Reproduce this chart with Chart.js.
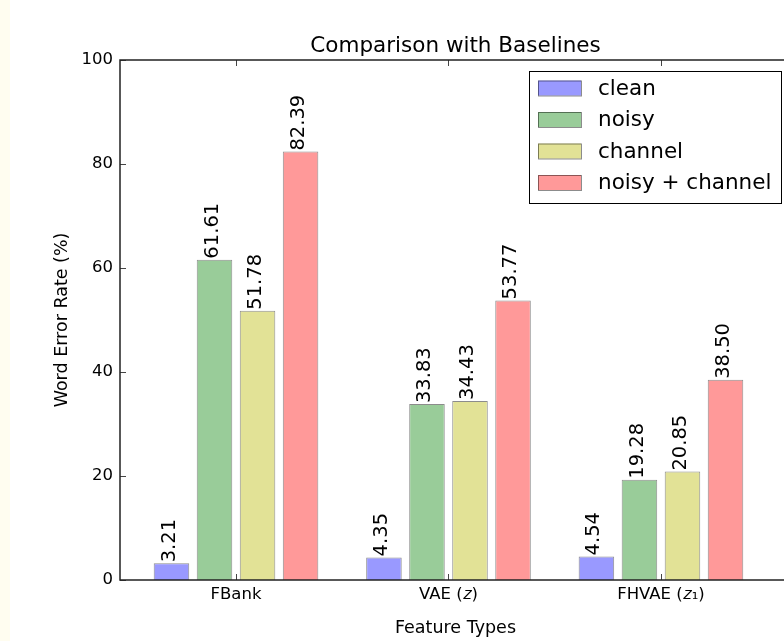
<!DOCTYPE html>
<html>
<head>
<meta charset="utf-8">
<script src="https://cdn.jsdelivr.net/npm/chart.js@4.4.1/dist/chart.umd.min.js"></script>
<style>
  html, body { margin: 0; padding: 0; overflow: hidden; background: #fffdf0; width: 784px; height: 641px; }
  #grafico { position: absolute; left: 10px; top: 0; background: #fff; }
</style>
</head>
<body>
<canvas id="grafico" width="790" height="641"></canvas>
<script>
const categorias = ['FBank', 'VAE (𝑧)', 'FHVAE (𝑧₁)'];
const clean = [3.21, 4.35, 4.54];
const noisy = [61.61, 33.83, 19.28];
const channel = [51.78, 34.43, 20.85];
const noisyChannel = [82.39, 53.77, 38.50];
const yTicks = [0, 20, 40, 60, 80, 100];

const FONTE = "'DejaVu Sans', 'Liberation Sans', sans-serif";

function pontos(valores) {
  return valores.map((v, i) => ({ x: i, y: v }));
}

// ------------ Rótulos de valor em cima das barras ------------
const rotulosBarras = {
  id: 'rotulosBarras',
  afterDatasetsDraw(chart) {
    const ctx = chart.ctx;
    ctx.save();
    ctx.fillStyle = '#000';
    ctx.font = '19.5px ' + FONTE;
    ctx.textAlign = 'left';
    ctx.textBaseline = 'middle';
    chart.data.datasets.forEach((ds, i) => {
      chart.getDatasetMeta(i).data.forEach((bar, j) => {
        ctx.save();
        ctx.translate(bar.x - 2, bar.y - 1);
        ctx.rotate(-Math.PI / 2);
        ctx.fillText(ds.data[j].y.toFixed(2), 0, 0);
        ctx.restore();
      });
    });
    ctx.restore();
  }
};

// ------------ Moldura, ticks internos e legenda ------------
const moldura = {
  id: 'moldura',
  afterDraw(chart) {
    const ctx = chart.ctx;
    const a = chart.chartArea;
    const sx = chart.scales.x, sy = chart.scales.y;
    ctx.save();

    // ticks para dentro
    ctx.strokeStyle = '#444';
    ctx.lineWidth = 1;
    ctx.beginPath();
    categorias.forEach((c, i) => {
      const px = Math.round(sx.getPixelForValue(i)) + 0.5;
      ctx.moveTo(px, a.top); ctx.lineTo(px, a.top + 6);
      ctx.moveTo(px, a.bottom); ctx.lineTo(px, a.bottom - 6);
    });
    yTicks.forEach(v => {
      const py = Math.round(sy.getPixelForValue(v)) + 0.5;
      ctx.moveTo(a.left, py); ctx.lineTo(a.left + 6, py);
      ctx.moveTo(a.right, py); ctx.lineTo(a.right - 6, py);
    });
    ctx.stroke();

    // eixos
    ctx.strokeStyle = '#222';
    ctx.lineWidth = 1.5;
    ctx.strokeRect(a.left, a.top, a.right - a.left, a.bottom - a.top);

    // legenda
    const lx = 519, ly = 71, lw = 252, lh = 132;
    ctx.fillStyle = '#fff';
    ctx.fillRect(lx, ly, lw, lh);
    ctx.strokeStyle = '#000';
    ctx.lineWidth = 1;
    ctx.strokeRect(lx + 0.5, ly + 0.5, lw, lh);
    ctx.font = '21.5px ' + FONTE;
    ctx.textAlign = 'left';
    ctx.textBaseline = 'middle';
    chart.data.datasets.forEach((ds, i) => {
      const cy = 88 + i * 31.5;
      ctx.fillStyle = ds.backgroundColor;
      ctx.fillRect(528, cy - 7.5, 43, 15);
      ctx.strokeStyle = ds.borderColor;
      ctx.strokeRect(528.5, cy - 7, 43, 15);
      ctx.fillStyle = '#000';
      ctx.fillText(ds.label, 588, cy + 1);
    });
    ctx.restore();
  }
};

const grafico = document.getElementById('grafico');

new Chart(grafico, {
  type: 'bar',
  data: {
    datasets: [
      { label: 'clean', data: pontos(clean), backgroundColor: '#9999ff' },
      { label: 'noisy', data: pontos(noisy), backgroundColor: '#99cc99' },
      { label: 'channel', data: pontos(channel), backgroundColor: '#e2e296' },
      { label: 'noisy + channel', data: pontos(noisyChannel), backgroundColor: '#ff9999' }
    ].map(ds => Object.assign(ds, {
      borderColor: 'rgba(0,0,0,0.45)',
      borderWidth: 1,
      categoryPercentage: 0.81,
      barPercentage: 0.826
    }))
  },
  options: {
    responsive: false,
    animation: false,
    devicePixelRatio: 1,
    layout: { padding: { left: 0, right: 9, top: 0, bottom: 0 } },
    plugins: {
      legend: { display: false },
      tooltip: { enabled: false },
      title: {
        display: true,
        text: 'Comparison with Baselines',
        fullSize: false,
        color: '#000',
        font: { family: FONTE, size: 21.5, weight: 'normal', lineHeight: 1.2 },
        padding: { top: 34, bottom: 0.2 }
      }
    },
    scales: {
      x: {
        type: 'linear',
        min: -0.546,
        max: 2.612,
        offset: false,
        grid: { display: false, drawTicks: false, offset: false },
        border: { display: false },
        afterBuildTicks: s => { s.ticks = categorias.map((c, i) => ({ value: i })); },
        afterFit: s => { s.height = 61; },
        ticks: {
          padding: 5,
          autoSkip: false,
          maxRotation: 0,
          color: '#000',
          font: { family: FONTE, size: 16.5 },
          callback: v => categorias[v]
        },
        title: {
          display: true,
          text: 'Feature Types',
          color: '#000',
          font: { family: FONTE, size: 17.5, lineHeight: 1.2 },
          padding: { top: 0, bottom: 2.5 }
        }
      },
      y: {
        min: 0,
        max: 100,
        grid: { display: false, drawTicks: false },
        border: { display: false },
        afterBuildTicks: s => { s.ticks = yTicks.map(v => ({ value: v })); },
        afterFit: s => { s.width = 110; },
        ticks: {
          padding: 7,
          color: '#000',
          font: { family: FONTE, size: 16.5 }
        },
        title: {
          display: true,
          text: 'Word Error Rate (%)',
          color: '#000',
          font: { family: FONTE, size: 17.5, lineHeight: 1.2 },
          padding: { top: 41.5, bottom: 0 }
        }
      }
    }
  },
  plugins: [rotulosBarras, moldura]
});
</script>
</body>
</html>
